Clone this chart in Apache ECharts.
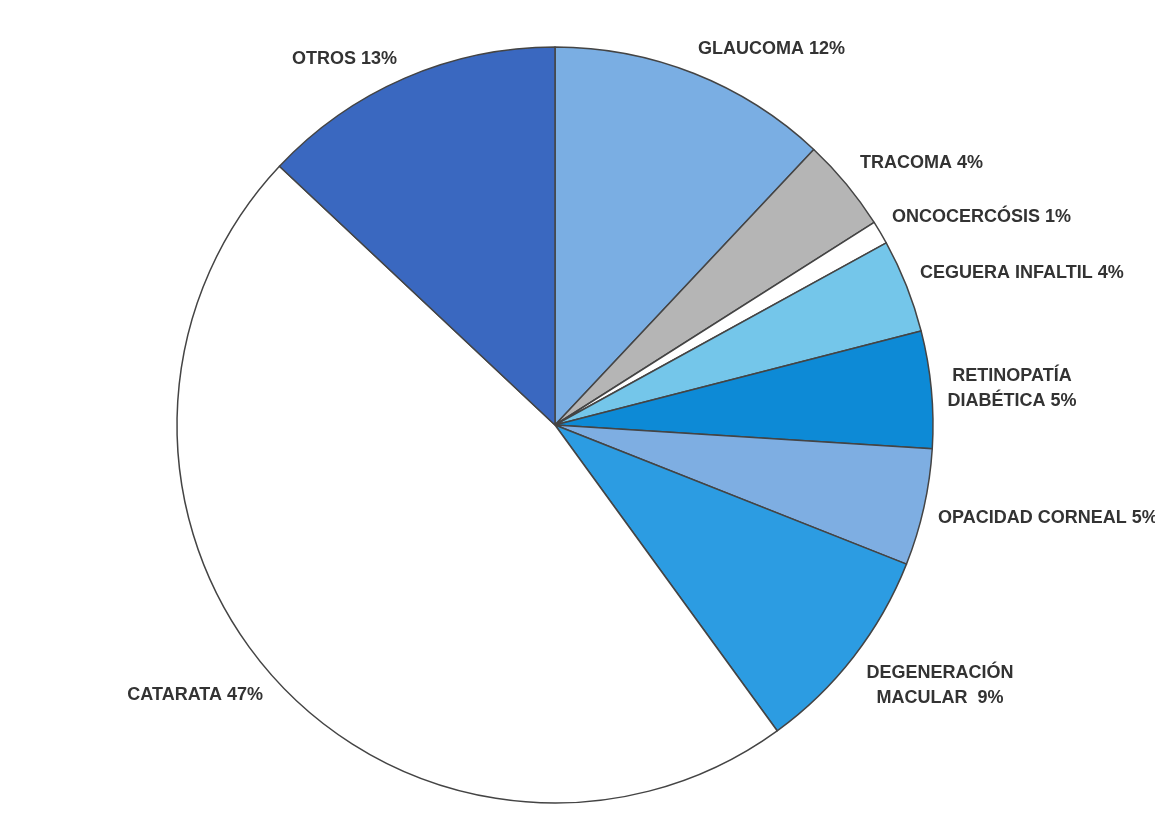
<!DOCTYPE html>
<html>
<head>
<meta charset="utf-8">
<script src="https://cdn.jsdelivr.net/npm/echarts@6/dist/echarts.min.js"></script>
<style>
  html, body { margin: 0; padding: 0; background: #fff; }
  #chart { width: 1155px; height: 815px; }
</style>
</head>
<body>
<div id="chart"></div>
<script>
// causas de ceguera (%), en orden horario desde las 12
var causas = ['GLAUCOMA', 'TRACOMA', 'ONCOCERCÓSIS', 'CEGUERA INFALTIL',
    'RETINOPATÍA\nDIABÉTICA', 'OPACIDAD CORNEAL', 'DEGENERACIÓN\nMACULAR ',
    'CATARATA', 'OTROS'];
var porcentajes = [12, 4, 1, 4, 5, 5, 9, 47, 13];

// colores de cada porción
var colores = ['#7aaee3', '#b5b5b5', '#ffffff', '#74c6ea', '#0d8ad6',
    '#7eaee2', '#2c9ce2', '#ffffff', '#3a68c0'];

// donde va cada etiqueta [x, y, align]
var posEtiquetas = [
    [698, 49, 'left'],
    [860, 163, 'left'],
    [892, 217, 'left'],
    [920, 273, 'left'],
    [1012, 389, 'center'],
    [938, 518, 'left'],
    [940, 686, 'center'],
    [263, 695, 'right'],
    [397, 59, 'right']
];

var chart = echarts.init(document.getElementById('chart'));

var datos = [];
for (var i = 0; i < causas.length; i++) {
    datos.push({
        name: causas[i],
        value: porcentajes[i],
        itemStyle: { color: colores[i] }
    });
}

chart.setOption({
    animation: false,
    series: [
        {
            type: 'pie',
            center: [555, 425],
            radius: 378,
            startAngle: 90,
            clockwise: true,
            data: datos,
            itemStyle: {
                borderColor: '#444',
                borderWidth: 1.5
            },
            label: {
                show: true,
                position: 'outside',
                formatter: '{b} {c}%',
                fontFamily: 'Liberation Sans, Arial, sans-serif',
                fontSize: 18,
                fontWeight: 'bold',
                color: '#333',
                lineHeight: 25,
                overflow: 'none'
            },
            labelLine: { show: false },
            labelLayout: function (params) {
                var p = posEtiquetas[params.dataIndex];
                return {
                    x: p[0],
                    y: p[1],
                    align: p[2],
                    verticalAlign: 'middle'
                };
            },
            emphasis: { disabled: true }
        }
    ]
});
</script>
</body>
</html>
